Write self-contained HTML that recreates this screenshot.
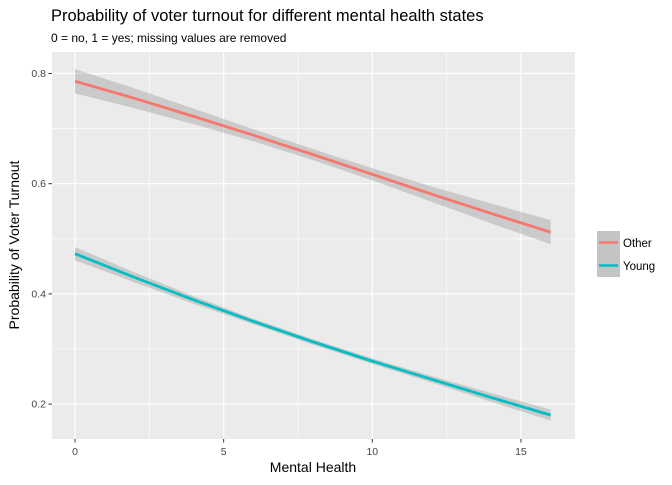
<!DOCTYPE html>
<html><head><meta charset="utf-8"><style>
body{margin:0;background:#fff;}
svg text{font-family:"Liberation Sans",Arial,sans-serif;}
</style></head><body>
<svg id="chart" width="672" height="480" xmlns="http://www.w3.org/2000/svg">
<text x="51" y="21" font-size="16.5" fill="#000">Probability of voter turnout for different mental health states</text>
<text x="51" y="42" font-size="12" fill="#000">0 = no, 1 = yes; missing values are removed</text>
<rect x="52" y="52" width="523" height="387" fill="#ebebeb"/>
<g id="grid"></g>
<g id="ribbons"></g>
<g id="lines"></g>
<g id="axes"></g>
<text x="313" y="472" font-size="14" text-anchor="middle" fill="#000">Mental Health</text>
<text transform="translate(19,245) rotate(-90)" font-size="14" text-anchor="middle" fill="#000">Probability of Voter Turnout</text>
<g>
<rect x="597" y="231" width="23" height="23" fill="#c4c4c4"/>
<line x1="599" y1="242.5" x2="618" y2="242.5" stroke="#F8766D" stroke-width="2.5"/>
<text x="623" y="247" font-size="11.5">Other</text>
<rect x="597" y="254" width="23" height="23" fill="#c4c4c4"/>
<line x1="599" y1="265.5" x2="618" y2="265.5" stroke="#00BFC4" stroke-width="2.5"/>
<text x="623" y="270" font-size="11.5">Young</text>
</g>
</svg>
<script>
const xs = [0, 2, 4, 6, 8, 10, 12, 14, 16];
const otherFit = [0.786, 0.755, 0.722, 0.688, 0.653, 0.617, 0.581, 0.546, 0.512];
const otherSe = [0.022, 0.018, 0.014, 0.011, 0.010, 0.011, 0.014, 0.018, 0.022];
const youngFit = [0.473, 0.430, 0.389, 0.350, 0.313, 0.278, 0.245, 0.212, 0.180];
const youngSe = [0.012, 0.009, 0.007, 0.005, 0.005, 0.005, 0.006, 0.008, 0.010];
const xTicks = [0, 5, 10, 15];
const yTicks = [0.2, 0.4, 0.6, 0.8];
const xMinor = [2.5, 7.5, 12.5];
const yMinor = [0.3, 0.5, 0.7];
const NS = "http://www.w3.org/2000/svg";
const X = v => 75 + v * 29.73;
const Y = v => 73.5 + (0.8 - v) * 551;
function mk(parent, tag, attrs){const e=document.createElementNS(NS,tag);for(const k in attrs)e.setAttribute(k,attrs[k]);document.getElementById(parent).appendChild(e);return e;}
xMinor.forEach(v=>{const e=mk('grid','line',{x1:X(v),x2:X(v),y1:52,y2:439,stroke:'#fff','stroke-width':0.6});

});
yMinor.forEach(v=>{const e=mk('grid','line',{x1:52,x2:575,y1:Y(v),y2:Y(v),stroke:'#fff','stroke-width':0.6});

});
xTicks.forEach(v=>{const e=mk('grid','line',{x1:X(v),x2:X(v),y1:52,y2:439,stroke:'#fff','stroke-width':1.2});


const t=mk('axes','line',{x1:X(v),x2:X(v),y1:439,y2:442.5,stroke:'#333','stroke-width':1});


const l=mk('axes','text',{x:X(v),y:455,'font-size':10.5,'text-anchor':'middle',fill:'#444'});l.textContent=v;

});
yTicks.forEach(v=>{const e=mk('grid','line',{x1:52,x2:575,y1:Y(v),y2:Y(v),stroke:'#fff','stroke-width':1.2});


const t=mk('axes','line',{x1:48.5,x2:52,y1:Y(v),y2:Y(v),stroke:'#333','stroke-width':1});


const l=mk('axes','text',{x:46,y:Y(v)+3.5,'font-size':10.5,'text-anchor':'end',fill:'#444'});l.textContent=v.toFixed(1);

});
function series(fit,se,color,name){
 const up=xs.map((x,i)=>X(x)+','+Y(fit[i]+se[i]));
 const lo=xs.map((x,i)=>X(x)+','+Y(fit[i]-se[i])).reverse();
 const r=mk('ribbons','polygon',{points:up.concat(lo).join(' '),fill:'#999','fill-opacity':0.4});
 
 
 const p=mk('lines','polyline',{points:xs.map((x,i)=>X(x)+','+Y(fit[i])).join(' '),fill:'none',stroke:color,'stroke-width':2.8});
 
 
}
series(otherFit,otherSe,'#F8766D','other');
series(youngFit,youngSe,'#00BFC4','young');
</script>
</body></html>
